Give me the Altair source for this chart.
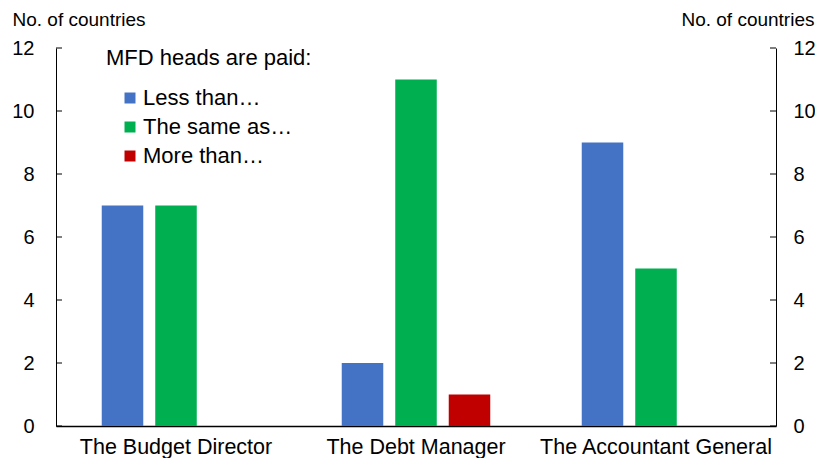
import altair as alt
import pandas as pd

categories = ["The Budget Director", "The Debt Manager", "The Accountant General"]
series = ["Less than…", "The same as…", "More than…"]
less_than = [7, 2, 9]
same_as = [7, 11, 5]
more_than = [0, 1, 0]
y_ticks = [0, 2, 4, 6, 8, 10, 12]
colors = ["#4472C4", "#00B050", "#C00000"]

rows = []
for i, c in enumerate(categories):
    for s, vals in zip(series, [less_than, same_as, more_than]):
        rows.append({"category": c, "series": s, "value": vals[i]})
df = pd.DataFrame(rows)
ticks_df = pd.DataFrame({"t": y_ticks})

FONT = "Liberation Sans"
W, H = 720, 378

yscale = alt.Scale(domain=[0, 12], nice=False)

bars = alt.Chart(df).mark_bar().encode(
    x=alt.X("category:N", sort=categories,
            scale=alt.Scale(paddingInner=0, paddingOuter=0),
            axis=alt.Axis(title=None, labelAngle=0, ticks=False, labelFontSize=21.5,
                          labelLimit=400, labelPadding=27, labelBaseline="alphabetic",
                          labelFont=FONT, labelColor="black", domainColor="black",
                          domainWidth=1.5)),
    xOffset=alt.XOffset("series:N", sort=series,
                        scale=alt.Scale(domain=series, paddingInner=0.224, paddingOuter=0.855)),
    y=alt.Y("value:Q", scale=yscale,
            axis=alt.Axis(values=y_ticks, ticks=False, grid=False, labelFontSize=20,
                          labelPadding=22, labelFont=FONT, labelColor="black",
                          domainColor="black", domainWidth=1,
                          title="No. of countries", titleAngle=0, titleAlign="left",
                          titleBaseline="alphabetic", titleX=-44, titleY=-23,
                          titleFontSize=19, titleFontWeight="normal", titleFont=FONT,
                          titleColor="black", titleLimit=300)),
    color=alt.Color("series:N", sort=series,
                    scale=alt.Scale(domain=series, range=colors),
                    legend=alt.Legend(title="MFD heads are paid:", orient="none",
                                      legendX=50, legendY=0, symbolType="square",
                                      symbolSize=121, symbolStrokeWidth=0,
                                      titleFontSize=22, titleFontWeight="normal",
                                      titleFont=FONT, titleColor="black", titleLimit=400,
                                      labelFontSize=22, labelFont=FONT, labelColor="black",
                                      labelLimit=300,
                                      titlePadding=17, rowPadding=7,
                                      symbolOffset=13, labelOffset=2)),
)

left_ticks = alt.Chart(ticks_df).mark_rule(color="black", strokeWidth=1).encode(
    y=alt.Y("t:Q", scale=yscale, axis=None),
    x=alt.value(0),
    x2=alt.value(6),
)

right_ticks = alt.Chart(ticks_df).mark_rule(color="black", strokeWidth=1).encode(
    y=alt.Y("t:Q", scale=yscale,
            axis=alt.Axis(orient="right", values=y_ticks, ticks=False, grid=False,
                          labelFontSize=20, labelPadding=17, labelFont=FONT,
                          labelColor="black", domainColor="black", domainWidth=1,
                          title="No. of countries", titleAngle=0, titleAlign="right",
                          titleBaseline="alphabetic", titleX=38, titleY=-23,
                          titleFontSize=19, titleFontWeight="normal", titleFont=FONT,
                          titleColor="black", titleLimit=300)),
    x=alt.value(W - 6),
    x2=alt.value(W),
)

chart = alt.layer(bars, left_ticks, right_ticks).resolve_axis(
    y="independent"
).properties(
    width=W, height=H,
    autosize=alt.AutoSizeParams(type="none"),
    padding={"left": 48, "top": 40, "right": 39, "bottom": 32},
).configure_view(stroke=None)

chart.save("out.html", embed_options={"renderer": "svg", "actions": False})
